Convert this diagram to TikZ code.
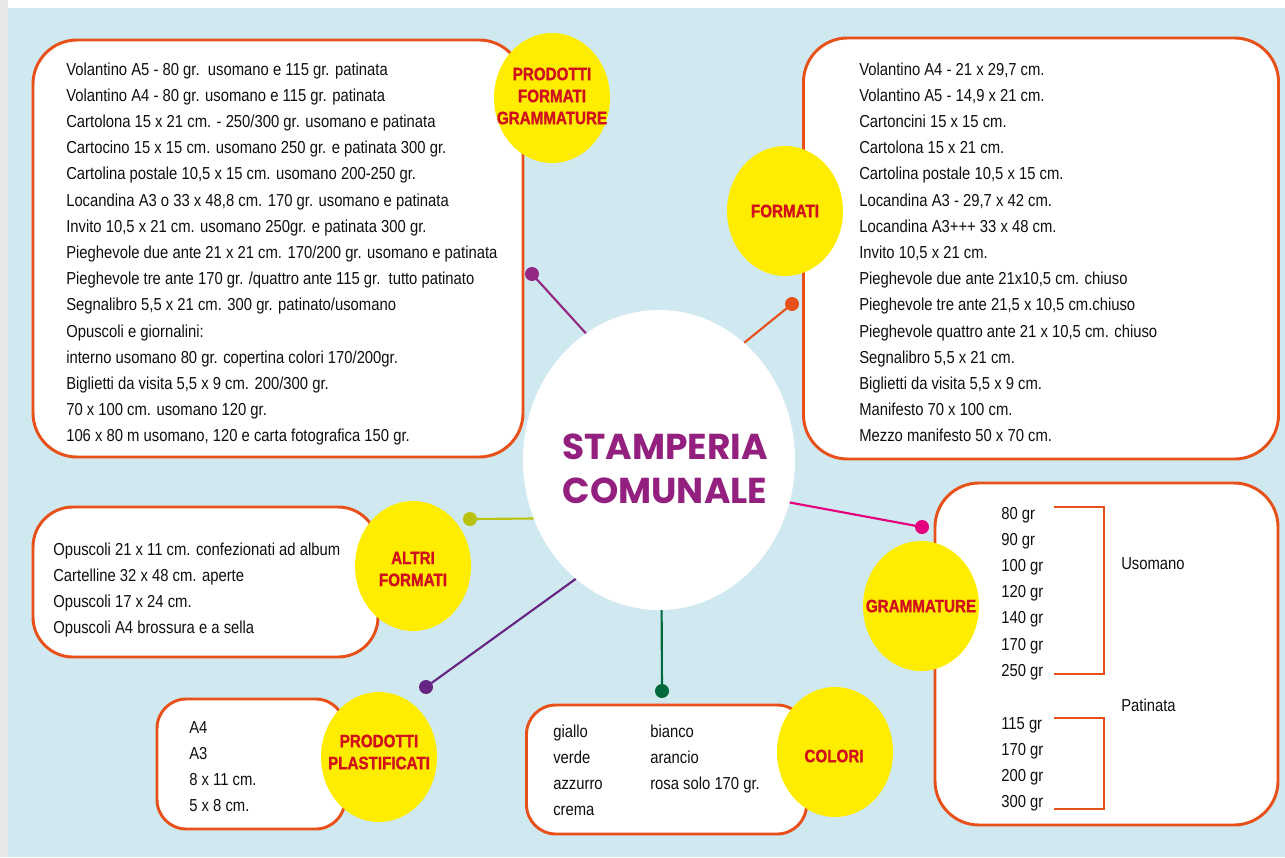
\documentclass[tikz,border=0pt]{standalone}
\usepackage{fontspec}
\setmainfont[FakeStretch=0.855]{Liberation Sans}
\newfontfamily\labfont[FakeStretch=0.85,BoldFeatures={FakeBold=1.2}]{Liberation Sans}
\newfontfamily\titfont{Poppins}
\usetikzlibrary{shapes.geometric}
\definecolor{bgblue}{RGB}{208,233,240}
\definecolor{orng}{RGB}{232,80,25}
\definecolor{yel}{RGB}{255,237,0}
\definecolor{labred}{RGB}{208,16,28}
\definecolor{titpurple}{RGB}{147,32,127}
\definecolor{txtc}{RGB}{15,15,15}
\definecolor{cpurple}{RGB}{147,40,130}
\definecolor{cyg}{RGB}{185,195,15}
\definecolor{cpink}{RGB}{228,0,125}
\definecolor{cdpurple}{RGB}{102,36,131}
\definecolor{cgreen}{RGB}{0,105,60}
\tikzset{
  box/.style={draw=orng, fill=white, line width=2.2pt, inner sep=0pt},
  ybub/.style={ellipse, fill=yel, inner sep=0pt, minimum width=87pt, minimum height=97.5pt},
  lab/.style={align=center, inner sep=0pt, text=labred, font=\labfont\bfseries\fontsize{13.4}{16.5}\selectfont},
  txt/.style={anchor=base west, inner sep=0pt, text=txtc, font=\fontsize{13}{15}\selectfont},
  dotn/.style={circle, inner sep=0pt, minimum size=10.5pt},
  conn/.style={line width=1.6pt}
}
\begin{document}
\begin{tikzpicture}[x=0.75pt,y=-0.75pt]
\useasboundingbox (0,0) rectangle (1285,857);
\fill[white] (0,0) rectangle (1285,857);
\fill[gray!18] (0,0) rectangle (8,857);
\fill[bgblue] (8,8) rectangle (1285,857);

% centre
\node[ellipse, fill=white, inner sep=0pt, minimum width=204pt, minimum height=225pt] (ctr) at (659,460) {};
\node[align=center, text=titpurple, font=\titfont\bfseries\fontsize{27}{33}\selectfont] (title) at (665,469) {STAMPERIA\\COMUNALE};

% dots and connectors
\node[dotn, fill=cpurple] (d1) at (532,274) {};
\node[dotn, fill=orng] (d2) at (792,304) {};
\node[dotn, fill=cyg] (d3) at (470,519) {};
\node[dotn, fill=cpink] (d4) at (922,527) {};
\node[dotn, fill=cdpurple] (d5) at (426,687) {};
\node[dotn, fill=cgreen] (d6) at (662,691) {};
\draw[conn, cpurple] (ctr.120) -- (d1.center);
\draw[conn, orng] (ctr.54) -- (d2.center);
\draw[conn, cyg] (ctr.205) -- (d3.center);
\draw[conn, cpink] (ctr.342) -- (d4.center);
\draw[conn, cdpurple] (ctr.235) -- (d5.center);
\draw[conn, cgreen] (ctr.271) -- (d6.center);

% boxes
\node[box, rounded corners=33pt, minimum width=367.5pt, minimum height=312.75pt] (b1) at (278,248.5) {};
\node[box, rounded corners=33pt, minimum width=356.25pt, minimum height=315.75pt] (b2) at (1041,248.5) {};
\node[box, rounded corners=30pt, minimum width=258.75pt, minimum height=112.5pt] (b3) at (205.5,582) {};
\node[box, rounded corners=22pt, minimum width=141pt, minimum height=97.5pt] (b4) at (251,764) {};
\node[box, rounded corners=22pt, minimum width=210pt, minimum height=96.75pt] (b5) at (666.5,769.5) {};
\node[box, rounded corners=33pt, minimum width=257.25pt, minimum height=256.5pt] (b6) at (1106.5,654) {};

% box 1 text
\foreach \t [count=\i] in {
 {Volantino A5 - 80 gr.\ \ usomano e 115 gr. patinata},
 {Volantino A4 - 80 gr. usomano e 115 gr. patinata},
 {Cartolona 15 x 21 cm. - 250/300 gr. usomano e patinata},
 {Cartocino 15 x 15 cm. usomano 250 gr. e patinata 300 gr.},
 {Cartolina postale 10,5 x 15 cm. usomano 200-250 gr.},
 {Locandina A3 o 33 x 48,8 cm. 170 gr. usomano e patinata},
 {Invito 10,5 x 21 cm. usomano 250gr. e patinata 300 gr.},
 {Pieghevole due ante 21 x 21 cm. 170/200 gr. usomano e patinata},
 {Pieghevole tre ante 170 gr. /quattro ante 115 gr.\ \ tutto patinato},
 {Segnalibro 5,5 x 21 cm. 300 gr. patinato/usomano},
 {Opuscoli e giornalini:},
 {interno usomano 80 gr. copertina colori 170/200gr.},
 {Biglietti da visita 5,5 x 9 cm. 200/300 gr.},
 {70 x 100 cm. usomano 120 gr.},
 {106 x 80 m usomano, 120 e carta fotografica 150 gr.}}
 \node[txt] (la\i) at (66,{75+(\i-1)*26.2}) {\t};

% box 2 text
\foreach \t [count=\i] in {
 {Volantino A4 - 21 x 29,7 cm.},
 {Volantino A5 - 14,9 x 21 cm.},
 {Cartoncini 15 x 15 cm.},
 {Cartolona 15 x 21 cm.},
 {Cartolina postale 10,5 x 15 cm.},
 {Locandina A3 - 29,7 x 42 cm.},
 {Locandina A3+++ 33 x 48 cm.},
 {Invito 10,5 x 21 cm.},
 {Pieghevole due ante 21x10,5 cm. chiuso},
 {Pieghevole tre ante 21,5 x 10,5 cm.chiuso},
 {Pieghevole quattro ante 21 x 10,5 cm. chiuso},
 {Segnalibro 5,5 x 21 cm.},
 {Biglietti da visita 5,5 x 9 cm.},
 {Manifesto 70 x 100 cm.},
 {Mezzo manifesto 50 x 70 cm.}}
 \node[txt] (lb\i) at (859,{75+(\i-1)*26.2}) {\t};

% box 3 text
\foreach \t [count=\i] in {
 {Opuscoli 21 x 11 cm. confezionati ad album},
 {Cartelline 32 x 48 cm. aperte},
 {Opuscoli 17 x 24 cm.},
 {Opuscoli A4 brossura e a sella}}
 \node[txt] (lc\i) at (53,{555+(\i-1)*26.3}) {\t};

% box 4 text
\foreach \t [count=\i] in {{A4},{A3},{8 x 11 cm.},{5 x 8 cm.}}
 \node[txt] (ld\i) at (189,{733+(\i-1)*26}) {\t};

% box 5 text
\foreach \t [count=\i] in {{giallo},{verde},{azzurro},{crema}}
 \node[txt] (le\i) at (553,{737+(\i-1)*26.2}) {\t};
\foreach \t [count=\i] in {{bianco},{arancio},{rosa solo 170 gr.}}
 \node[txt] (lf\i) at (650,{737+(\i-1)*26.2}) {\t};

% box 6 text
\foreach \t [count=\i] in {{80 gr},{90 gr},{100 gr},{120 gr},{140 gr},{170 gr},{250 gr}}
 \node[txt] (lg\i) at (1001,{519+(\i-1)*26.2}) {\t};
\foreach \t [count=\i] in {{115 gr},{170 gr},{200 gr},{300 gr}}
 \node[txt] (lh\i) at (1001,{729+(\i-1)*26.3}) {\t};
\node[txt] (uso) at (1121,569) {Usomano};
\node[txt] (pat) at (1121,711) {Patinata};
\coordinate (k1) at (1054,507); \coordinate (k2) at (1104,507);
\coordinate (k3) at (1104,674); \coordinate (k4) at (1054,674);
\draw[orng, line width=1.5pt] (k1) -- (k2) -- (k3) -- (k4);
\coordinate (m1) at (1054,718); \coordinate (m2) at (1104,718);
\coordinate (m3) at (1104,809); \coordinate (m4) at (1054,809);
\draw[orng, line width=1.5pt] (m1) -- (m2) -- (m3) -- (m4);

% yellow bubbles
\node[ybub] (y1) at (552,98) {};
\node[lab] (y1t) at (552,96) {PRODOTTI\\FORMATI\\GRAMMATURE};
\node[ybub] (y2) at (785,211) {};
\node[lab] (y2t) at (y2) {FORMATI};
\node[ybub] (y3) at (413,566) {};
\node[lab] (y3t) at (413,569) {ALTRI\\FORMATI};
\node[ybub] (y4) at (379,757) {};
\node[lab] (y4t) at (379,752) {PRODOTTI\\PLASTIFICATI};
\node[ybub] (y5) at (835,752) {};
\node[lab] (y5t) at (834,756) {COLORI};
\node[ybub] (y6) at (921,606) {};
\node[lab] (y6t) at (y6) {GRAMMATURE};
\end{tikzpicture}
\end{document}
